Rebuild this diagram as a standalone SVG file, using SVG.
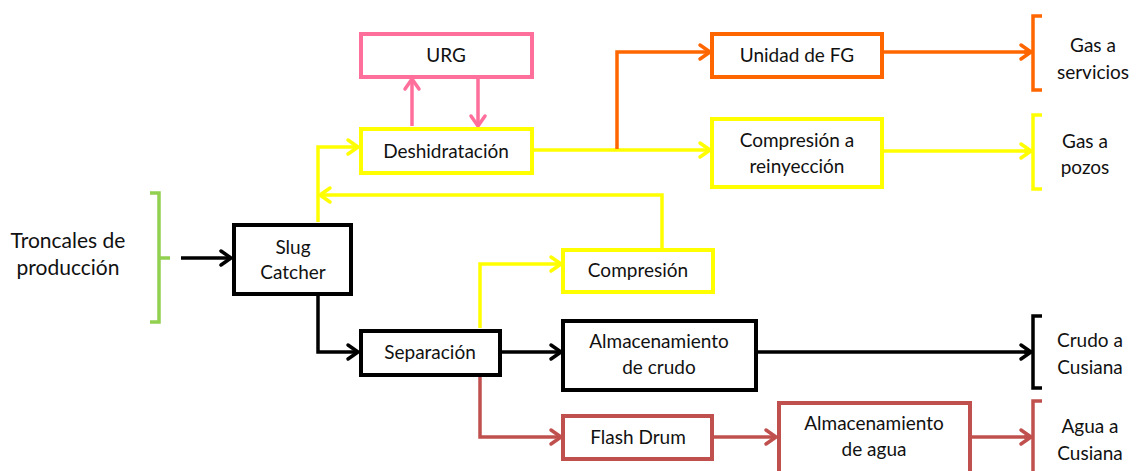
<svg xmlns="http://www.w3.org/2000/svg" width="1139" height="471" viewBox="0 0 1139 471">
<style>
  text { font-family: Lato, "Open Sans", "Liberation Sans", sans-serif; font-size: 19px; fill: #111; text-anchor: middle; }
  .lbl { font-size: 19px; }
  .big { font-size: 21px; }
  .box { fill: #fff; stroke-width: 4; }
  .ln { fill: none; stroke-width: 3.5; }
  .k { stroke: #000; }
  .y { stroke: #FFFF00; }
  .o { stroke: #FF6600; }
  .p { stroke: #FF6F9C; }
  .r { stroke: #C0504D; }
  .g { stroke: #92D050; }
</style>
<defs>
  <marker id="mk" viewBox="0 0 14 18" refX="12" refY="9" markerWidth="14" markerHeight="18" markerUnits="userSpaceOnUse" orient="auto" overflow="visible"><path d="M2,2 L12,9 L2,16" fill="none" stroke="#000" stroke-width="3.5" stroke-linecap="round" stroke-linejoin="round"/></marker>
  <marker id="my" viewBox="0 0 14 18" refX="12" refY="9" markerWidth="14" markerHeight="18" markerUnits="userSpaceOnUse" orient="auto" overflow="visible"><path d="M2,2 L12,9 L2,16" fill="none" stroke="#FFFF00" stroke-width="3.5" stroke-linecap="round" stroke-linejoin="round"/></marker>
  <marker id="mo" viewBox="0 0 14 18" refX="12" refY="9" markerWidth="14" markerHeight="18" markerUnits="userSpaceOnUse" orient="auto" overflow="visible"><path d="M2,2 L12,9 L2,16" fill="none" stroke="#FF6600" stroke-width="3.5" stroke-linecap="round" stroke-linejoin="round"/></marker>
  <marker id="mp" viewBox="0 0 14 18" refX="12" refY="9" markerWidth="14" markerHeight="18" markerUnits="userSpaceOnUse" orient="auto" overflow="visible"><path d="M2,2 L12,9 L2,16" fill="none" stroke="#FF6F9C" stroke-width="3.5" stroke-linecap="round" stroke-linejoin="round"/></marker>
  <marker id="mr" viewBox="0 0 14 18" refX="12" refY="9" markerWidth="14" markerHeight="18" markerUnits="userSpaceOnUse" orient="auto" overflow="visible"><path d="M2,2 L12,9 L2,16" fill="none" stroke="#C0504D" stroke-width="3.5" stroke-linecap="round" stroke-linejoin="round"/></marker>
</defs>

<g id="connectors">
  <!-- black -->
  <path class="ln k" d="M181,258 H231" marker-end="url(#mk)"/>
  <path class="ln k" d="M318,296 V352 H358" marker-end="url(#mk)"/>
  <path class="ln k" d="M502,352 H561" marker-end="url(#mk)"/>
  <path class="ln k" d="M758,352 H1031" marker-end="url(#mk)"/>
  <!-- yellow -->
  <path class="ln y" d="M318,222 V147 H358" marker-end="url(#my)"/>
  <path class="ln y" d="M662,248 V195 H320" marker-end="url(#my)"/>
  <path class="ln y" d="M480,328 V264 H561" marker-end="url(#my)"/>
  <path class="ln y" d="M534,150 H710" marker-end="url(#my)"/>
  <path class="ln y" d="M884,151 H1031" marker-end="url(#my)"/>
  <!-- orange -->
  <path class="ln o" d="M617,149 V52 H710" marker-end="url(#mo)"/>
  <path class="ln o" d="M884,52 H1031" marker-end="url(#mo)"/>
  <!-- pink -->
  <path class="ln p" d="M412,126 V79" marker-end="url(#mp)"/>
  <path class="ln p" d="M478,79 V126" marker-end="url(#mp)"/>
  <!-- red -->
  <path class="ln r" d="M480,377 V437 H561" marker-end="url(#mr)"/>
  <path class="ln r" d="M714,437 H776" marker-end="url(#mr)"/>
  <path class="ln r" d="M972,437 H1031" marker-end="url(#mr)"/>
</g>

<g id="troncales">
  <path class="ln g" d="M150,193 H159 V322 H150 M159,258 H170"/>
  <text class="big" x="68" y="248">Troncales de</text>
  <text class="big" x="68" y="275">producción</text>
</g>

<g id="slug-catcher">
  <rect class="box k" x="234" y="225" width="117" height="69"/>
  <text x="293" y="254">Slug</text>
  <text x="293" y="279">Catcher</text>
</g>

<g id="urg">
  <rect class="box p" x="361" y="34" width="171" height="43"/>
  <text x="446" y="62">URG</text>
</g>

<g id="deshidratacion">
  <rect class="box y" x="361" y="129" width="171" height="44"/>
  <text x="446" y="158">Deshidratación</text>
</g>

<g id="unidad-fg">
  <rect class="box o" x="712" y="34" width="170" height="43"/>
  <text x="797" y="62">Unidad de FG</text>
</g>

<g id="compresion-reinyeccion">
  <rect class="box y" x="712" y="119" width="170" height="68"/>
  <text x="797" y="147">Compresión a</text>
  <text x="797" y="173">reinyección</text>
</g>

<g id="compresion">
  <rect class="box y" x="563" y="250" width="150" height="42"/>
  <text x="638" y="277">Compresión</text>
</g>

<g id="separacion">
  <rect class="box k" x="361" y="331" width="139" height="44"/>
  <text x="430" y="359">Separación</text>
</g>

<g id="almacenamiento-crudo">
  <rect class="box k" x="563" y="321" width="193" height="69"/>
  <text x="659" y="348">Almacenamiento</text>
  <text x="659" y="374">de crudo</text>
</g>

<g id="flash-drum">
  <rect class="box r" x="563" y="416" width="149" height="43"/>
  <text x="638" y="444">Flash Drum</text>
</g>

<g id="almacenamiento-agua">
  <rect class="box r" x="779" y="403" width="191" height="72"/>
  <text x="874" y="430">Almacenamiento</text>
  <text x="874" y="456">de agua</text>
</g>

<g id="gas-servicios">
  <path class="ln o" d="M1042,16 H1033 V90 H1042 M1033,52 H1024"/>
  <text class="lbl" x="1093" y="52">Gas a</text>
  <text class="lbl" x="1093" y="79">servicios</text>
</g>

<g id="gas-pozos">
  <path class="ln y" d="M1042,115 H1033 V189 H1042 M1033,151 H1024"/>
  <text class="lbl" x="1085" y="148">Gas a</text>
  <text class="lbl" x="1085" y="174">pozos</text>
</g>

<g id="crudo-cusiana">
  <path class="ln k" d="M1042,316 H1033 V388 H1042 M1033,352 H1024"/>
  <text class="lbl" x="1090" y="347">Crudo a</text>
  <text class="lbl" x="1090" y="374">Cusiana</text>
</g>

<g id="agua-cusiana">
  <path class="ln r" d="M1042,401 H1033 V475 M1033,437 H1024"/>
  <text class="lbl" x="1090" y="433">Agua a</text>
  <text class="lbl" x="1090" y="460">Cusiana</text>
</g>
</svg>
